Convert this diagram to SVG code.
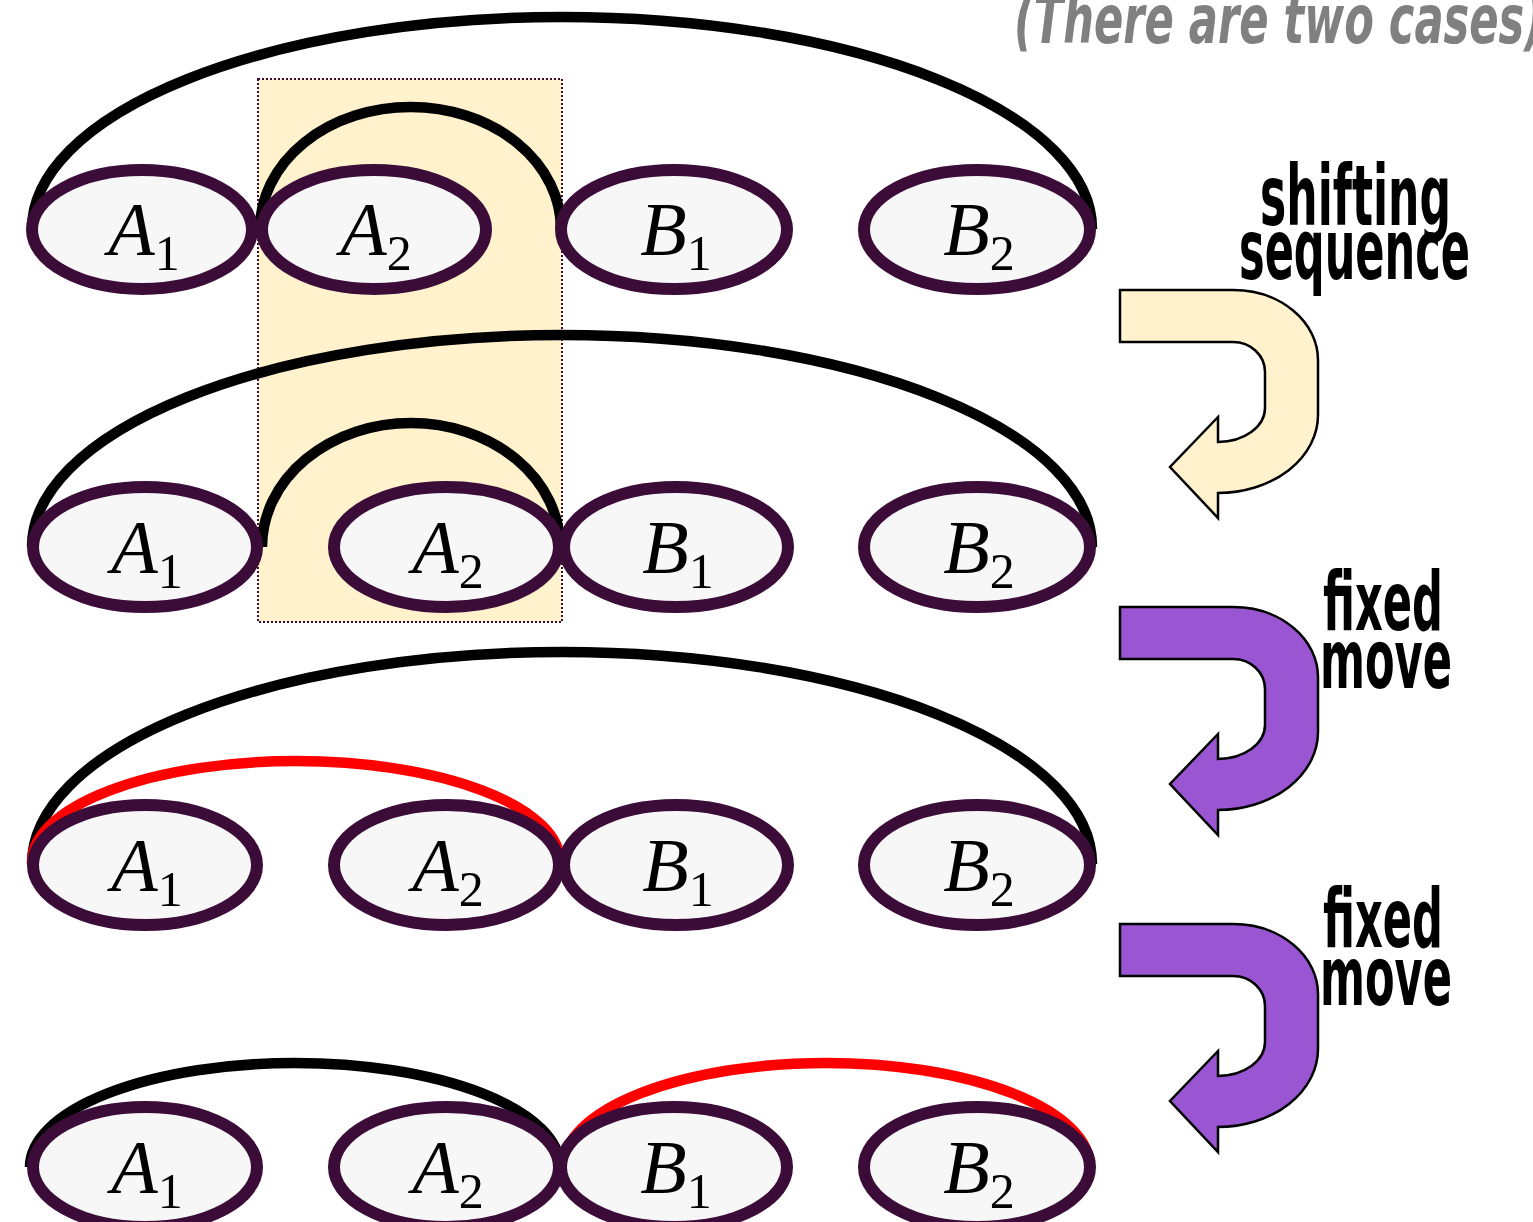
<svg xmlns="http://www.w3.org/2000/svg" xmlns:xlink="http://www.w3.org/1999/xlink" width="1533" height="1222" viewBox="0 0 1533 1222">
<style>
.node{fill:#f7f7f7;stroke:#3c0c39;stroke-width:12}
.lbl{font-family:"Liberation Serif","DejaVu Serif",serif;font-size:76px;font-style:italic;fill:#000;text-anchor:middle}
.sub{font-size:50px;font-style:normal}
.arc{fill:none;stroke:#000;stroke-width:10.5}
.red{fill:none;stroke:#ff0000;stroke-width:10.5}
.cap{font-family:"DejaVu Sans Condensed","Liberation Sans",sans-serif;font-weight:bold;fill:#000}
.uarrow{stroke:#000;stroke-width:2.5;stroke-linejoin:miter}
</style>
<defs>
<path id="uturn" d="M1120,290 H1233 A85,70 0 0 1 1318,360 V415 A100,78 0 0 1 1218,493 V518 L1170,467 L1218,417 V442 A47,34 0 0 0 1265,408 V372 A32,30 0 0 0 1233,342 H1120 Z"/>
</defs>
<rect id="highlight" x="258" y="79" width="304" height="543" fill="#fff2cc" stroke="#3c0c39" stroke-width="2" stroke-dasharray="2,2"/>
<text id="title" x="1014" y="43" font-family="DejaVu Sans Condensed,Liberation Sans,sans-serif" font-weight="bold" font-size="68" font-style="italic" fill="#808080" textLength="530" lengthAdjust="spacingAndGlyphs">(There are two cases)</text>
<g id="connectors">
<path class="arc" d="M32,229 A530,212 0 0 1 1092,229"/>
<path class="arc" d="M260,229 A150.5,122 0 0 1 561,229"/>
<path class="arc" d="M32,547 A530,212 0 0 1 1092,547"/>
<path class="arc" d="M262,547 A149,124 0 0 1 560,547"/>
<path class="arc" d="M32,864 A530,212 0 0 1 1092,864"/>
<path class="red" d="M32,862 A264,101 0 0 1 560,862"/>
<path class="arc" d="M30,1167 A265,104 0 0 1 560,1167"/>
<path class="red" d="M563,1167 A263.5,104 0 0 1 1090,1167"/>
</g>
<g id="r1-A1"><ellipse class="node" cx="142" cy="229.5" rx="110" ry="59.5"/><text class="lbl" x="144" y="255">A<tspan class="sub" dy="15">1</tspan></text></g>
<g id="r1-A2"><ellipse class="node" cx="374" cy="229.5" rx="112" ry="59.5"/><text class="lbl" x="376" y="255">A<tspan class="sub" dy="15">2</tspan></text></g>
<g id="r1-B1"><ellipse class="node" cx="674" cy="229.5" rx="113" ry="59.5"/><text class="lbl" x="676" y="255">B<tspan class="sub" dy="15">1</tspan></text></g>
<g id="r1-B2"><ellipse class="node" cx="977" cy="229.5" rx="113" ry="59.5"/><text class="lbl" x="979" y="255">B<tspan class="sub" dy="15">2</tspan></text></g>
<g id="r2-A1"><ellipse class="node" cx="145" cy="547" rx="112" ry="60"/><text class="lbl" x="147" y="573">A<tspan class="sub" dy="15">1</tspan></text></g>
<g id="r2-A2"><ellipse class="node" cx="446.5" cy="547" rx="112.5" ry="60"/><text class="lbl" x="448" y="573">A<tspan class="sub" dy="15">2</tspan></text></g>
<g id="r2-B1"><ellipse class="node" cx="676" cy="547" rx="112" ry="60"/><text class="lbl" x="678" y="573">B<tspan class="sub" dy="15">1</tspan></text></g>
<g id="r2-B2"><ellipse class="node" cx="977" cy="547" rx="113" ry="60"/><text class="lbl" x="979" y="573">B<tspan class="sub" dy="15">2</tspan></text></g>
<g id="r3-A1"><ellipse class="node" cx="145" cy="865" rx="112" ry="60"/><text class="lbl" x="147" y="891">A<tspan class="sub" dy="15">1</tspan></text></g>
<g id="r3-A2"><ellipse class="node" cx="446.5" cy="865" rx="112.5" ry="60"/><text class="lbl" x="448" y="891">A<tspan class="sub" dy="15">2</tspan></text></g>
<g id="r3-B1"><ellipse class="node" cx="676" cy="865" rx="112" ry="60"/><text class="lbl" x="678" y="891">B<tspan class="sub" dy="15">1</tspan></text></g>
<g id="r3-B2"><ellipse class="node" cx="977" cy="865" rx="113" ry="60"/><text class="lbl" x="979" y="891">B<tspan class="sub" dy="15">2</tspan></text></g>
<g id="r4-A1"><ellipse class="node" cx="145" cy="1167" rx="112" ry="60"/><text class="lbl" x="147" y="1193">A<tspan class="sub" dy="15">1</tspan></text></g>
<g id="r4-A2"><ellipse class="node" cx="446.5" cy="1167" rx="112.5" ry="60"/><text class="lbl" x="448" y="1193">A<tspan class="sub" dy="15">2</tspan></text></g>
<g id="r4-B1"><ellipse class="node" cx="674" cy="1167" rx="113" ry="60"/><text class="lbl" x="676" y="1193">B<tspan class="sub" dy="15">1</tspan></text></g>
<g id="r4-B2"><ellipse class="node" cx="977" cy="1167" rx="113" ry="60"/><text class="lbl" x="979" y="1193">B<tspan class="sub" dy="15">2</tspan></text></g>
<g id="step1">
<use xlink:href="#uturn" class="uarrow" fill="#fff2cc"/>
<text class="cap" x="1260" y="225" font-size="84" textLength="191" lengthAdjust="spacingAndGlyphs">shifting</text>
<text class="cap" x="1239" y="279" font-size="84" textLength="231" lengthAdjust="spacingAndGlyphs">sequence</text>
</g>
<g id="step2">
<use xlink:href="#uturn" class="uarrow" fill="#9a56d2" transform="translate(0,317)"/>
<text class="cap" x="1323" y="630" font-size="82" textLength="120" lengthAdjust="spacingAndGlyphs">fixed</text>
<text class="cap" x="1320" y="688" font-size="82" textLength="132" lengthAdjust="spacingAndGlyphs">move</text>
</g>
<g id="step3">
<use xlink:href="#uturn" class="uarrow" fill="#9a56d2" transform="translate(0,634)"/>
<text class="cap" x="1323" y="947" font-size="82" textLength="120" lengthAdjust="spacingAndGlyphs">fixed</text>
<text class="cap" x="1320" y="1005" font-size="82" textLength="132" lengthAdjust="spacingAndGlyphs">move</text>
</g>
</svg>
